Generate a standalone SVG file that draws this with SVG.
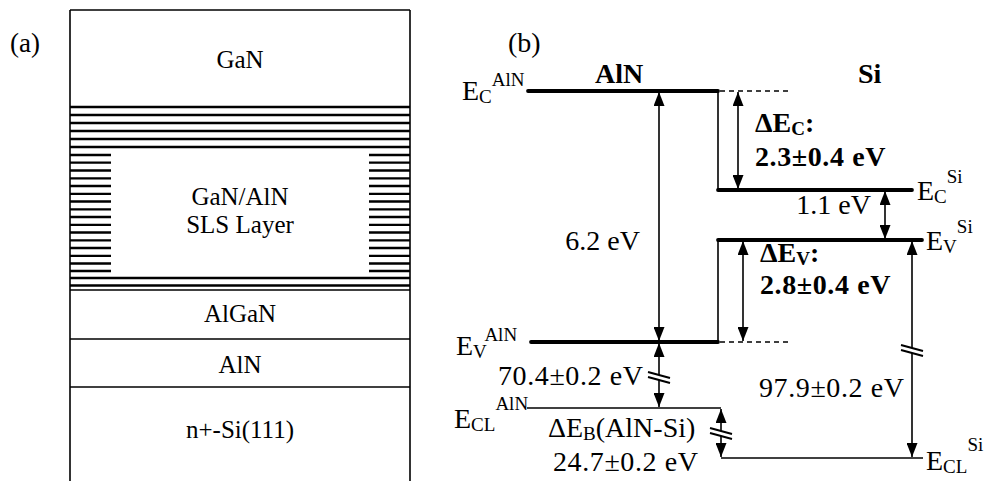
<svg xmlns="http://www.w3.org/2000/svg" width="989" height="481" viewBox="0 0 989 481">
<defs>
<style>
text{font-family:"Liberation Serif","Times New Roman",serif;fill:#000}
.lt{font-size:25px}
.rt{font-size:28px}
.v{letter-spacing:0.6px}
.b{font-weight:bold}
.sm{font-size:19px}
.border{stroke:#000;stroke-width:1.6;fill:none}
.stripe{stroke:#000;stroke-width:2.3}
.lvl{stroke:#000;stroke-width:3.8;stroke-linecap:round}
.thin{stroke:#000;stroke-width:1.6;fill:none}
.dash{stroke:#000;stroke-width:1.6;stroke-dasharray:5 4}
.arr{stroke:#000;stroke-width:1.6;marker-start:url(#ah);marker-end:url(#ah)}
.brk{stroke:#000;stroke-width:2}
</style>
<marker id="ah" markerUnits="userSpaceOnUse" markerWidth="14" markerHeight="11" refX="14" refY="5.5" orient="auto-start-reverse">
<path d="M0,0 L14,5.5 L0,11 z" fill="#000"/>
</marker>
</defs>
<rect width="989" height="481" fill="#fff"/>

<g id="panel-a">
<text x="10" y="52" style="font-size:27px">(a)</text>
<g id="frame">
<line class="border" x1="70" y1="10" x2="410" y2="10"/>
<line class="border" x1="70" y1="10" x2="70" y2="481"/>
<line class="border" x1="410" y1="10" x2="410" y2="481"/>
</g>
<g id="layer-gan"><text class="lt" x="240" y="68" text-anchor="middle">GaN</text></g>
<g id="layer-sls">
<g class="stripe">
<line x1="70" y1="107" x2="410" y2="107"/>
<line x1="70" y1="115" x2="410" y2="115"/>
<line x1="70" y1="123" x2="410" y2="123"/>
<line x1="70" y1="131" x2="410" y2="131"/>
<line x1="70" y1="139" x2="410" y2="139"/>
<line x1="70" y1="147" x2="410" y2="147"/>
<path d="M70 155H111M369 155H410M70 162.7H111M369 162.7H410M70 170.5H111M369 170.5H410M70 178.3H111M369 178.3H410M70 186H111M369 186H410M70 193.8H111M369 193.8H410M70 201.5H111M369 201.5H410M70 209.3H111M369 209.3H410M70 217H111M369 217H410M70 224.8H111M369 224.8H410M70 232.5H111M369 232.5H410M70 240.3H111M369 240.3H410M70 248H111M369 248H410M70 255.8H111M369 255.8H410M70 263.5H111M369 263.5H410M70 271H111M369 271H410"/>
<line x1="70" y1="278" x2="410" y2="278"/>
<line x1="70" y1="285.5" x2="410" y2="285.5"/>
</g>
<text class="lt" x="240" y="205" text-anchor="middle">GaN/AlN</text>
<text class="lt" x="240" y="233" text-anchor="middle">SLS Layer</text>
</g>
<g id="layer-algan">
<line class="border" x1="70" y1="290" x2="410" y2="290"/>
<text class="lt" x="240" y="322" text-anchor="middle">AlGaN</text>
</g>
<g id="layer-aln">
<line class="border" x1="70" y1="339" x2="410" y2="339"/>
<text class="lt" x="240" y="373" text-anchor="middle">AlN</text>
</g>
<g id="layer-si">
<line class="border" x1="70" y1="387" x2="410" y2="387"/>
<text class="lt" x="240" y="438" text-anchor="middle">n+-Si(111)</text>
</g>
</g>

<g id="panel-b">
<text class="rt" x="508" y="52">(b)</text>
<text class="rt b" x="595" y="83">AlN</text>
<text class="rt b" x="858" y="83">Si</text>

<g id="ec-aln">
<line class="lvl" x1="528" y1="91" x2="718" y2="91"/>
<line class="dash" x1="720" y1="91" x2="790" y2="91"/>
<text class="rt" x="462" y="100">E<tspan class="sm" dy="3">C</tspan><tspan class="sm" dy="-17">AlN</tspan></text>
</g>
<g id="ec-si">
<line class="lvl" x1="718" y1="190" x2="912" y2="190"/>
<text class="rt" x="917" y="200">E<tspan class="sm" dy="3">C</tspan><tspan class="sm" dy="-20">Si</tspan></text>
</g>
<g id="ev-si">
<line class="lvl" x1="718" y1="240" x2="922" y2="240"/>
<text class="rt" x="926" y="250">E<tspan class="sm" dy="3">V</tspan><tspan class="sm" dy="-20">Si</tspan></text>
</g>
<g id="ev-aln">
<line class="lvl" x1="531" y1="342" x2="718" y2="342"/>
<line class="dash" x1="720" y1="342" x2="790" y2="342"/>
<text class="rt" x="456" y="355">E<tspan class="sm" dy="3">V</tspan><tspan class="sm" dy="-17">AlN</tspan></text>
</g>
<g id="ecl-aln">
<line class="thin" x1="527" y1="408" x2="721" y2="408"/>
<text class="rt" x="454" y="428">E<tspan class="sm" dy="3">CL</tspan><tspan class="sm" dy="-21">AlN</tspan></text>
</g>
<g id="ecl-si">
<line class="thin" x1="721" y1="458" x2="923" y2="458"/>
<text class="rt" x="926" y="470">E<tspan class="sm" dy="3">CL</tspan><tspan class="sm" dy="-22">Si</tspan></text>
</g>

<g id="labels">
<text class="rt" x="640" y="250" text-anchor="end">6.2 eV</text>
<text class="rt b" x="755" y="132">ΔE<tspan class="sm" dy="3">C</tspan><tspan dy="-3">:</tspan></text>
<text class="rt b v" x="755" y="166">2.3±0.4 eV</text>
<text class="rt" x="871" y="214" text-anchor="end">1.1 eV</text>
<text class="rt b" x="760" y="262">ΔE<tspan class="sm" dy="3">V</tspan><tspan dy="-3">:</tspan></text>
<text class="rt b v" x="760" y="294">2.8±0.4 eV</text>
<text class="rt v" x="498" y="385">70.4±0.2 eV</text>
<text class="rt v" x="759" y="397">97.9±0.2 eV</text>
<text class="rt" x="548" y="437">ΔE<tspan class="sm" dy="3">B</tspan><tspan dy="-3">(AlN-Si)</tspan></text>
<text class="rt v" x="553" y="471">24.7±0.2 eV</text>
</g>
</g>

<g id="connectors">
<line class="thin" x1="718" y1="91" x2="718" y2="190"/>
<line class="thin" x1="718" y1="240" x2="718" y2="342"/>
<line class="arr" x1="659" y1="92" x2="659" y2="341"/>
<line class="arr" x1="738" y1="92" x2="738" y2="189"/>
<line class="arr" x1="885" y1="191" x2="885" y2="239"/>
<line class="arr" x1="743" y1="241" x2="743" y2="341"/>
<line class="arr" x1="659" y1="343" x2="659" y2="407"/>
<line class="arr" x1="912" y1="241" x2="912" y2="457"/>
<line class="arr" x1="721" y1="409" x2="721" y2="457"/>
<g id="breaks">
<polygon points="648,372 670,378 670,383 648,377" fill="#fff"/>
<line class="brk" x1="648" y1="372" x2="670" y2="378"/>
<line class="brk" x1="648" y1="377" x2="670" y2="383"/>
<polygon points="901,345 923,351 923,356 901,350" fill="#fff"/>
<line class="brk" x1="901" y1="345" x2="923" y2="351"/>
<line class="brk" x1="901" y1="350" x2="923" y2="356"/>
<polygon points="710,428 732,434 732,439 710,433" fill="#fff"/>
<line class="brk" x1="710" y1="428" x2="732" y2="434"/>
<line class="brk" x1="710" y1="433" x2="732" y2="439"/>
</g>
</g>
</svg>
